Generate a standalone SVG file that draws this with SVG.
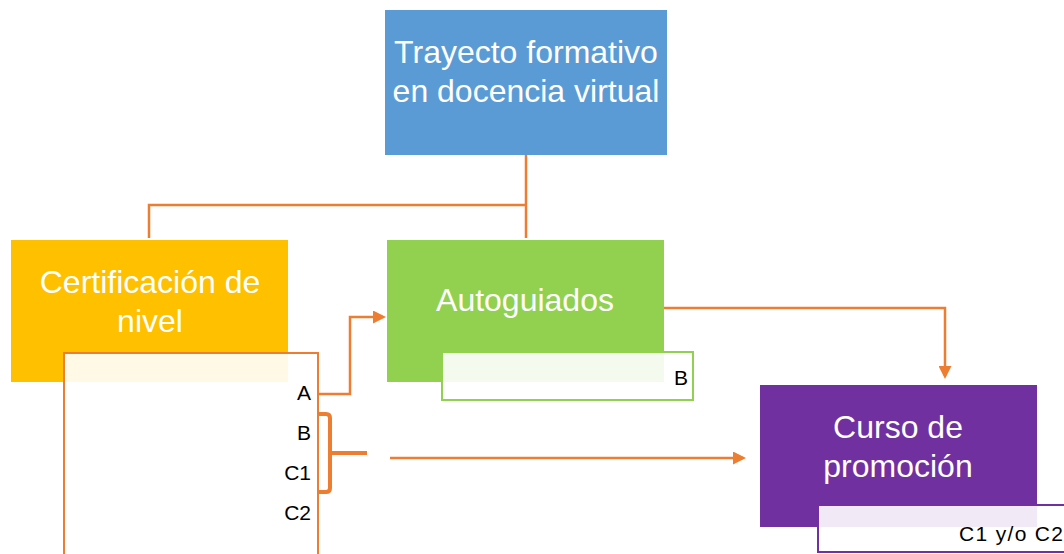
<svg xmlns="http://www.w3.org/2000/svg" width="1064" height="554" viewBox="0 0 1064 554">
<style>
.t{font-family:"Liberation Sans",Arial,sans-serif;font-size:32px;fill:#fff;text-anchor:middle}
.s{font-family:"Liberation Sans",Arial,sans-serif;font-size:21px;fill:#000;text-anchor:end}
.c{fill:none;stroke:#ED7D31;stroke-width:2.5}
</style>
<defs>
<marker id="ah" markerWidth="13" markerHeight="13" refX="10" refY="6.5" orient="auto" markerUnits="userSpaceOnUse" viewBox="0 0 13 13">
<path d="M0,0 L13,6.5 L0,13 z" fill="#ED7D31"/>
</marker>
</defs>
<rect width="1064" height="554" fill="#fff"/>
<g id="connectors">
<path class="c" d="M526,155 V238 M526,205 H149 V238"/>
<path class="c" d="M318,394 H350 V317 H383" marker-end="url(#ah)"/>
<path class="c" d="M664,308 H945 V376" marker-end="url(#ah)"/>
<path class="c" d="M390,458 H743" marker-end="url(#ah)"/>
</g>
<g id="trayecto">
<rect x="385" y="10" width="282" height="145" fill="#5B9BD5"/>
<text class="t" x="526" y="63">Trayecto formativo</text>
<text class="t" x="526" y="102">en docencia virtual</text>
</g>
<g id="certificacion">
<rect x="11" y="240" width="277" height="142" fill="#FFC000"/>
<text class="t" x="150" y="293">Certificación de</text>
<text class="t" x="150" y="332">nivel</text>
</g>
<g id="certificacion-niveles">
<rect x="64" y="353" width="254" height="210" fill="#fff" fill-opacity="0.9" stroke="#ED7D31" stroke-width="2"/>
<text class="s" x="311" y="400">A</text>
<text class="s" x="311" y="440">B</text>
<text class="s" x="311" y="480">C1</text>
<text class="s" x="311" y="520">C2</text>
<path d="M319,414 H326 Q330,414 330,418 V488 Q330,492 326,492 H319 M330,453 H367" fill="none" stroke="#ED7D31" stroke-width="4"/>
</g>
<g id="autoguiados">
<rect x="387" y="240" width="277" height="142" fill="#92D050"/>
<text class="t" x="525" y="311">Autoguiados</text>
</g>
<g id="autoguiados-nivel">
<rect x="442" y="352" width="251" height="48" fill="#fff" fill-opacity="0.9" stroke="#92D050" stroke-width="2"/>
<text class="s" x="688" y="385">B</text>
</g>
<g id="curso">
<rect x="760" y="385" width="277" height="142" fill="#7030A0"/>
<text class="t" x="898" y="438">Curso de</text>
<text class="t" x="898" y="477">promoción</text>
</g>
<g id="curso-nivel">
<rect x="818" y="505" width="260" height="47" fill="#fff" fill-opacity="0.9" stroke="#7030A0" stroke-width="2"/>
<text class="s" x="1063" y="541" textLength="104">C1 y/o C2</text>
</g>
</svg>
